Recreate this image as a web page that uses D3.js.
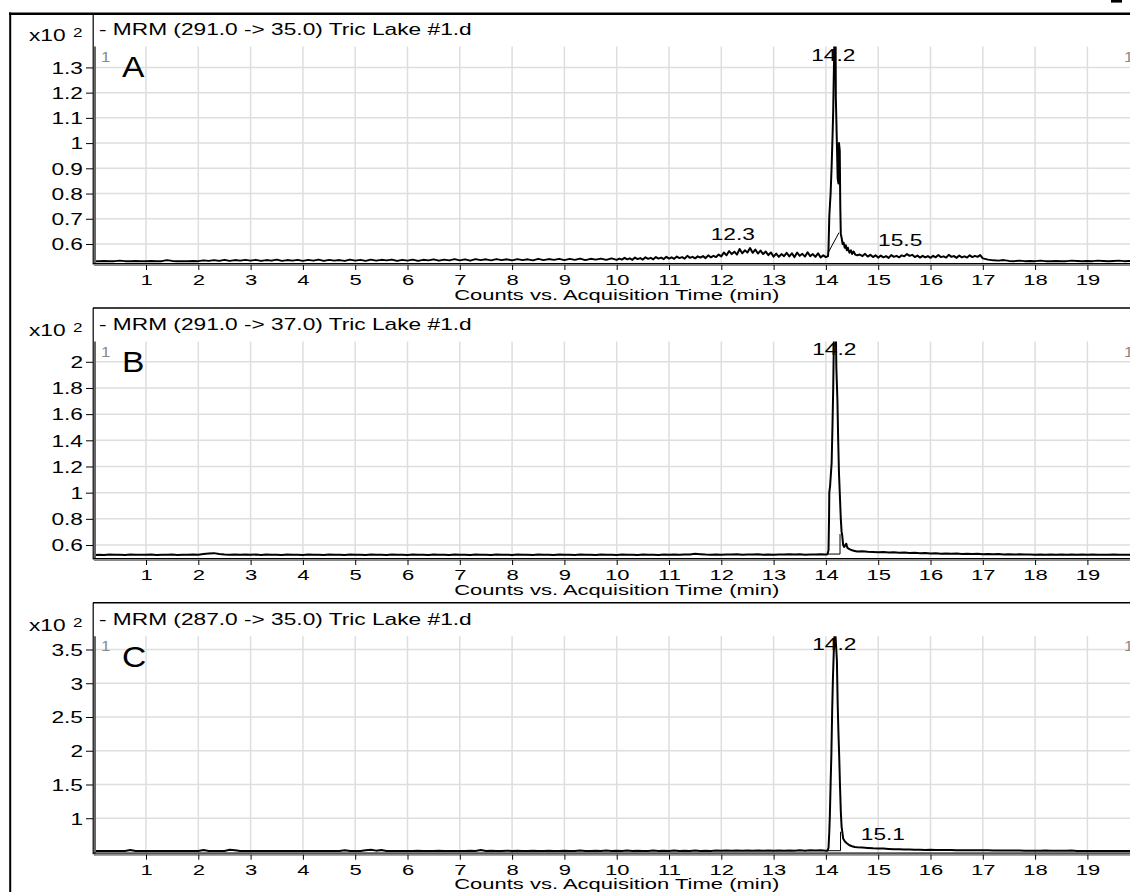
<!DOCTYPE html>
<html><head><meta charset="utf-8">
<script src="https://cdn.jsdelivr.net/npm/d3@7/dist/d3.min.js"></script>
<style>body{margin:0;background:#fff}svg{display:block}text{font-family:"Liberation Sans",Arial,sans-serif}</style>
</head><body>
<svg id="chart" width="1130" height="892"></svg>
<script>
// ---------- data ----------
const timeStart = 0.0, timeStep = 0.1;           // acquisition times (min) of baseline samples
const denseStart = 10.0, denseStep = 0.05;       // finer sampling of trace A between 10 and 17 min
const xTicks = [1,2,3,4,5,6,7,8,9,10,11,12,13,14,15,16,17,18,19];
const xDomain = [0, 20];

const titles = ["- MRM (291.0 -> 35.0) Tric Lake #1.d", "- MRM (291.0 -> 37.0) Tric Lake #1.d", "- MRM (287.0 -> 35.0) Tric Lake #1.d"];
const letters = ["A", "B", "C"];

const yDomainA = [0.5226, 1.383];
const yTicksA = [0.6,0.7,0.8,0.9,1,1.1,1.2,1.3];
const yLabelsA = ["0.6","0.7","0.8","0.9","1","1.1","1.2","1.3"];
const yDomainB = [0.497, 2.155];
const yTicksB = [0.6,0.8,1,1.2,1.4,1.6,1.8,2];
const yLabelsB = ["0.6","0.8","1","1.2","1.4","1.6","1.8","2"];
const yDomainC = [0.482, 3.697];
const yTicksC = [1,1.5,2,2.5,3,3.5];
const yLabelsC = ["1","1.5","2","2.5","3","3.5"];

const baselineA = [
0.532,0.532,0.533,0.532,0.532,0.534,0.532,0.532,0.533,0.532,
0.532,0.533,0.532,0.532,0.536,0.533,0.532,0.532,0.532,0.533,
0.532,0.535,0.533,0.536,0.533,0.537,0.533,0.536,0.534,0.537,
0.534,0.537,0.533,0.536,0.534,0.538,0.533,0.536,0.534,0.537,
0.533,0.537,0.534,0.538,0.533,0.537,0.534,0.536,0.533,0.538,
0.534,0.537,0.533,0.538,0.534,0.537,0.535,0.538,0.533,0.537,
0.534,0.538,0.533,0.537,0.535,0.539,0.534,0.538,0.535,0.540,
0.535,0.539,0.534,0.540,0.536,0.539,0.535,0.540,0.536,0.539,
0.535,0.540,0.536,0.539,0.535,0.541,0.536,0.540,0.537,0.541,
0.536,0.541,0.537,0.542,0.536,0.541,0.538,0.542,0.537,0.543,
0.538,0.543,0.539,0.544,0.538,0.545,0.540,0.546,0.541,0.547,
0.541,0.548,0.543,0.551,0.544,0.549,0.545,0.552,0.546,0.556,
0.550,0.566,0.556,0.576,0.560,0.570,0.556,0.566,0.551,0.560,
0.548,0.558,0.550,0.560,0.551,0.564,0.552,0.563,0.550,0.556,
0.548,0.552,0.600,0.600,0.600,0.600,0.560,0.552,0.558,0.550,
0.546,0.553,0.547,0.552,0.548,0.558,0.551,0.554,0.547,0.552,
0.546,0.552,0.548,0.555,0.547,0.551,0.546,0.553,0.547,0.552,
0.542,0.538,0.535,0.534,0.536,0.533,0.532,0.534,0.532,0.533,
0.532,0.534,0.532,0.532,0.533,0.532,0.532,0.534,0.533,0.532,
0.533,0.532,0.534,0.533,0.532,0.533,0.534,0.532,0.533,0.532,
0.532];
const denseA = [
0.537,0.542,0.538,0.545,0.539,0.543,0.537,0.546,0.540,0.544,0.538,0.547,0.541,0.545,0.539,0.548,0.542,0.546,0.540,0.549,
0.542,0.547,0.541,0.550,0.544,0.548,0.542,0.553,0.545,0.549,0.543,0.551,0.546,0.552,0.544,0.555,0.547,0.553,0.548,0.558,
0.551,0.566,0.555,0.572,0.560,0.569,0.558,0.580,0.563,0.575,0.566,0.584,0.565,0.578,0.562,0.574,0.560,0.570,0.556,0.566,
0.550,0.562,0.549,0.560,0.552,0.565,0.551,0.563,0.548,0.566,0.553,0.561,0.550,0.567,0.552,0.560,0.549,0.563,0.547,0.555,
0.548,0.550,0.550,0.550,0.550,0.550,0.550,0.550,0.550,0.550,0.550,0.550,0.550,0.558,0.552,0.561,0.550,0.557,0.548,0.555,
0.546,0.554,0.547,0.552,0.545,0.556,0.549,0.553,0.547,0.555,0.551,0.560,0.553,0.557,0.548,0.554,0.546,0.553,0.547,0.552,
0.545,0.553,0.547,0.556,0.548,0.551,0.546,0.557,0.549,0.552,0.545,0.554,0.547,0.551,0.546,0.555,0.548,0.553,0.549,0.556,
0.543];
const baselineB = [
0.524,0.526,0.524,0.527,0.525,0.526,0.524,0.527,0.525,0.526,
0.525,0.527,0.524,0.526,0.525,0.527,0.524,0.526,0.525,0.527,
0.526,0.531,0.536,0.538,0.532,0.528,0.526,0.527,0.525,0.527,
0.525,0.527,0.524,0.527,0.525,0.526,0.524,0.527,0.525,0.526,
0.524,0.527,0.525,0.526,0.524,0.527,0.525,0.526,0.524,0.527,
0.525,0.526,0.524,0.527,0.525,0.526,0.524,0.527,0.525,0.526,
0.524,0.527,0.525,0.526,0.524,0.527,0.525,0.526,0.524,0.527,
0.525,0.526,0.524,0.527,0.525,0.526,0.524,0.527,0.525,0.526,
0.524,0.527,0.525,0.526,0.524,0.527,0.525,0.526,0.524,0.527,
0.525,0.526,0.524,0.527,0.525,0.526,0.524,0.527,0.525,0.526,
0.524,0.527,0.525,0.526,0.524,0.527,0.525,0.526,0.524,0.527,
0.525,0.527,0.526,0.528,0.527,0.533,0.530,0.527,0.526,0.528,
0.526,0.528,0.527,0.529,0.526,0.528,0.527,0.529,0.526,0.528,
0.526,0.528,0.527,0.529,0.527,0.529,0.526,0.528,0.527,0.529,
0.527,0.530,0.600,0.600,0.600,0.600,0.550,0.552,0.548,0.546,
0.544,0.546,0.542,0.545,0.541,0.543,0.539,0.541,0.537,0.539,
0.535,0.537,0.534,0.536,0.533,0.535,0.532,0.534,0.531,0.533,
0.530,0.532,0.529,0.531,0.528,0.530,0.527,0.529,0.527,0.528,
0.526,0.528,0.526,0.527,0.525,0.527,0.525,0.527,0.525,0.527,
0.525,0.527,0.525,0.526,0.525,0.527,0.525,0.526,0.525,0.526,
0.525];
const baselineC = [
0.516,0.516,0.516,0.516,0.516,0.516,0.516,0.530,0.516,0.516,
0.516,0.516,0.516,0.516,0.516,0.516,0.516,0.516,0.516,0.516,
0.516,0.528,0.516,0.516,0.516,0.516,0.532,0.527,0.516,0.516,
0.516,0.516,0.516,0.516,0.516,0.516,0.516,0.516,0.516,0.516,
0.516,0.516,0.516,0.516,0.516,0.516,0.516,0.516,0.525,0.516,
0.516,0.516,0.527,0.532,0.520,0.529,0.516,0.516,0.516,0.516,
0.516,0.516,0.520,0.516,0.516,0.516,0.520,0.516,0.516,0.516,
0.516,0.516,0.520,0.516,0.528,0.516,0.520,0.516,0.516,0.520,
0.516,0.520,0.516,0.516,0.520,0.516,0.516,0.520,0.516,0.516,
0.520,0.516,0.516,0.521,0.516,0.516,0.520,0.516,0.521,0.516,
0.520,0.516,0.521,0.516,0.520,0.516,0.516,0.521,0.516,0.520,
0.516,0.521,0.516,0.520,0.516,0.521,0.516,0.520,0.516,0.521,
0.517,0.521,0.517,0.522,0.517,0.521,0.518,0.522,0.517,0.522,
0.518,0.522,0.519,0.523,0.519,0.524,0.520,0.524,0.521,0.524,
0.518,0.520,0.600,0.600,0.600,0.600,0.570,0.565,0.560,0.555,
0.552,0.550,0.546,0.542,0.540,0.536,0.535,0.533,0.532,0.531,
0.532,0.530,0.529,0.528,0.528,0.527,0.526,0.526,0.525,0.525,
0.525,0.524,0.523,0.523,0.522,0.522,0.521,0.521,0.520,0.520,
0.519,0.519,0.523,0.518,0.518,0.517,0.517,0.522,0.516,0.516,
0.516,0.516,0.516,0.516,0.516,0.516,0.516,0.516,0.516,0.516,
0.516];

// detailed samples across the main peak: [time, signal]
const peakA = [[14.00,0.548],[14.04,0.552],[14.05,0.58],[14.065,0.71],[14.09,0.80],[14.11,0.91],[14.13,1.05],[14.14,1.13],[14.155,1.32],[14.165,1.45],[14.185,1.45],[14.19,1.18],[14.21,1.00],[14.225,0.86],[14.24,0.84],[14.25,1.00],[14.265,0.97],[14.275,0.75],[14.285,0.64],[14.30,0.625],[14.32,0.60],[14.34,0.605],[14.36,0.585],[14.38,0.595],[14.40,0.575],[14.42,0.585],[14.45,0.565],[14.48,0.575],[14.50,0.56],[14.53,0.57],[14.56,0.558],[14.60,0.555]];
const peakB = [[14.00,0.527],[14.03,0.530],[14.05,0.56],[14.06,0.80],[14.065,1.00],[14.08,1.05],[14.11,1.23],[14.125,1.50],[14.14,1.80],[14.155,2.25],[14.19,2.25],[14.20,1.95],[14.22,1.71],[14.235,1.40],[14.25,1.15],[14.27,0.95],[14.285,0.80],[14.30,0.70],[14.31,0.68],[14.33,0.60],[14.35,0.585],[14.37,0.60],[14.39,0.61],[14.41,0.58],[14.44,0.57],[14.47,0.565],[14.50,0.56],[14.55,0.555],[14.60,0.55]];
const peakC = [[14.00,0.518],[14.03,0.52],[14.05,0.56],[14.065,0.80],[14.075,1.02],[14.09,1.50],[14.105,1.96],[14.12,2.60],[14.135,3.09],[14.15,3.45],[14.165,3.75],[14.18,3.75],[14.195,3.55],[14.21,3.34],[14.225,2.70],[14.24,2.26],[14.255,1.90],[14.27,1.47],[14.285,1.10],[14.30,0.876],[14.32,0.76],[14.33,0.70],[14.36,0.66],[14.40,0.63],[14.45,0.60],[14.50,0.585],[14.55,0.575],[14.60,0.57]];

// integration baselines / drop lines
const integA = [[14.05,0.568],[14.25,0.645]];
const integB = [[14.03,0.531],[14.27,0.531],[14.27,0.684]];
const integC = [[14.03,0.519],[14.28,0.519],[14.28,0.80]];

// peak labels: [time, signal, text]
const labelsA = [[14.14,1.326,"14.2"],[12.22,0.614,"12.3"],[15.42,0.593,"15.5"]];
const labelsB = [[14.16,2.052,"14.2"]];
const labelsC = [[14.16,3.493,"14.2"],[15.09,0.679,"15.1"]];

// ---------- drawing ----------
const SX = 1.42;   // horizontal stretch of the original text
const svg = d3.select("#chart");
const W = 1130;
const panelTops = [13, 308, 602.7];
const panels = [
  {base: baselineA, dense: denseA, peak: peakA, integ: integA, labels: labelsA, yd: yDomainA, yt: yTicksA, yl: yLabelsA},
  {base: baselineB, dense: null, peak: peakB, integ: integB, labels: labelsB, yd: yDomainB, yt: yTicksB, yl: yLabelsB},
  {base: baselineC, dense: null, peak: peakC, integ: integC, labels: labelsC, yd: yDomainC, yt: yTicksC, yl: yLabelsC}
];
const x = d3.scaleLinear().domain(xDomain).range([93.7, 1139.7]);

function stext(g, px, py, str, size, anchor, fill, sx) {
  return g.append("text")
    .attr("transform", `translate(${px},${py}) scale(${sx || SX},1)`)
    .attr("text-anchor", anchor || "start")
    .attr("font-size", size)
    .attr("fill", fill || "#000")
    .text(str);
}

const defs = svg.append("defs");

panels.forEach((p, i) => {
  const H = panelTops[i];
  const top = H + 33.5, bot = H + 250.5;
  const y = d3.scaleLinear().domain(p.yd).range([bot, top]);
  const g = svg.append("g");

  // grid
  g.append("g").selectAll("line").data(xTicks).join("line")
    .attr("x1", d => x(d)).attr("x2", d => x(d)).attr("y1", top).attr("y2", bot)
    .attr("stroke", "#dedede").attr("stroke-width", 1.5);
  g.append("g").selectAll("line").data(p.yt).join("line")
    .attr("x1", 95).attr("x2", W).attr("y1", d => y(d)).attr("y2", d => y(d))
    .attr("stroke", "#dedede").attr("stroke-width", 1.5);

  // header box lines
  if (i > 0) g.append("line").attr("x1", 93).attr("x2", W).attr("y1", H).attr("y2", H).attr("stroke", "#000").attr("stroke-width", 1.5);
  g.append("line").attr("x1", 93.2).attr("x2", 93.2).attr("y1", H).attr("y2", bot + 1).attr("stroke", "#000").attr("stroke-width", 1.2);

  // clip
  const cid = "clip" + i;
  defs.append("clipPath").attr("id", cid).append("rect")
    .attr("x", 95).attr("y", top).attr("width", W - 95).attr("height", bot - top);

  // series: coarse baseline, optional dense segment, detailed peak
  const p0 = p.peak[0][0], p1 = p.peak[p.peak.length - 1][0];
  let d0 = Infinity, d1 = -Infinity;
  const pts = [];
  if (p.dense) {
    d0 = denseStart; d1 = +(denseStart + (p.dense.length - 1) * denseStep).toFixed(2);
    p.dense.forEach((v, k) => {
      const t = +(denseStart + k * denseStep).toFixed(3);
      if (t < p0 || t > p1) pts.push([t, v]);
    });
  }
  p.base.forEach((v, k) => {
    const t = +(timeStart + k * timeStep).toFixed(2);
    if ((t < p0 || t > p1) && (t < d0 || t > d1)) pts.push([t, v]);
  });
  p.peak.forEach(d => pts.push(d));
  pts.sort((a, b) => a[0] - b[0]);
  const line = d3.line().x(d => x(d[0])).y(d => y(d[1]));
  const cg = g.append("g").attr("clip-path", `url(#${cid})`);
  cg.append("path").datum(pts).attr("d", line).attr("fill", "none")
    .attr("stroke", "#000").attr("stroke-width", 2).attr("stroke-linejoin", "round");
  cg.append("path").datum(p.integ).attr("d", line).attr("fill", "none")
    .attr("stroke", "#000").attr("stroke-width", 1);

  // axes frame
  g.append("line").attr("x1", 95).attr("x2", 95).attr("y1", top).attr("y2", bot + 2)
    .attr("stroke", "#666").attr("stroke-width", 2);
  g.append("line").attr("x1", 93).attr("x2", W).attr("y1", bot).attr("y2", bot)
    .attr("stroke", "#000").attr("stroke-width", 1.2);
  g.append("line").attr("x1", 94).attr("x2", W).attr("y1", bot + 1.6).attr("y2", bot + 1.6)
    .attr("stroke", "#888").attr("stroke-width", 2);

  // x axis
  const xa = g.append("g").attr("transform", `translate(0,${bot + 1.5})`)
    .call(d3.axisBottom(x).tickValues(xTicks).tickSize(5).tickFormat(d3.format("d")));
  xa.select(".domain").remove();
  xa.selectAll(".tick line").attr("stroke", "#000");
  xa.selectAll(".tick text").attr("y", 20.5).attr("dy", 0).attr("font-size", 15.5)
    .attr("fill", "#000").attr("font-family", '"Liberation Sans",Arial,sans-serif')
    .attr("transform", `scale(${SX},1)`);

  // y axis
  const ya = g.append("g").attr("transform", `translate(93,0)`)
    .call(d3.axisLeft(y).tickValues(p.yt).tickSize(7).tickFormat((d, k) => p.yl[k]));
  ya.select(".domain").remove();
  ya.selectAll(".tick line").attr("stroke", "#000");
  ya.selectAll(".tick text").attr("x", -10 / SX).attr("dy", "0.36em").attr("font-size", 16)
    .attr("fill", "#000").attr("font-family", '"Liberation Sans",Arial,sans-serif')
    .attr("transform", `scale(${SX},1)`);

  // texts
  stext(g, 99, H + 22, titles[i], 16);
  stext(g, 29, H + 28, "x10", 16);
  stext(g, 73, H + 24, "2", 12);
  stext(g, 101, H + 48.5, "1", 14, "start", "#888", 1.2);
  stext(g, 1124, H + 48.5, "1", 14, "start", "#888", 1.2);
  stext(g, 122, H + 64, letters[i], 30, "start", "#000", 1.12);
  p.labels.forEach(l => stext(g, x(l[0]), y(l[1]), l[2], 16, "middle"));
  stext(g, x(10), H + 286.5, "Counts vs. Acquisition Time (min)", 15.5, "middle");
});

// outer frame
svg.append("line").attr("x1", 9).attr("x2", W).attr("y1", 13.8).attr("y2", 13.8).attr("stroke", "#000").attr("stroke-width", 2.5);
svg.append("line").attr("x1", 10.2).attr("x2", 10.2).attr("y1", 12.5).attr("y2", 892).attr("stroke", "#000").attr("stroke-width", 2);
svg.append("rect").attr("x", 1111).attr("y", 0).attr("width", 11).attr("height", 2.6).attr("fill", "#000");
</script>
</body></html>
